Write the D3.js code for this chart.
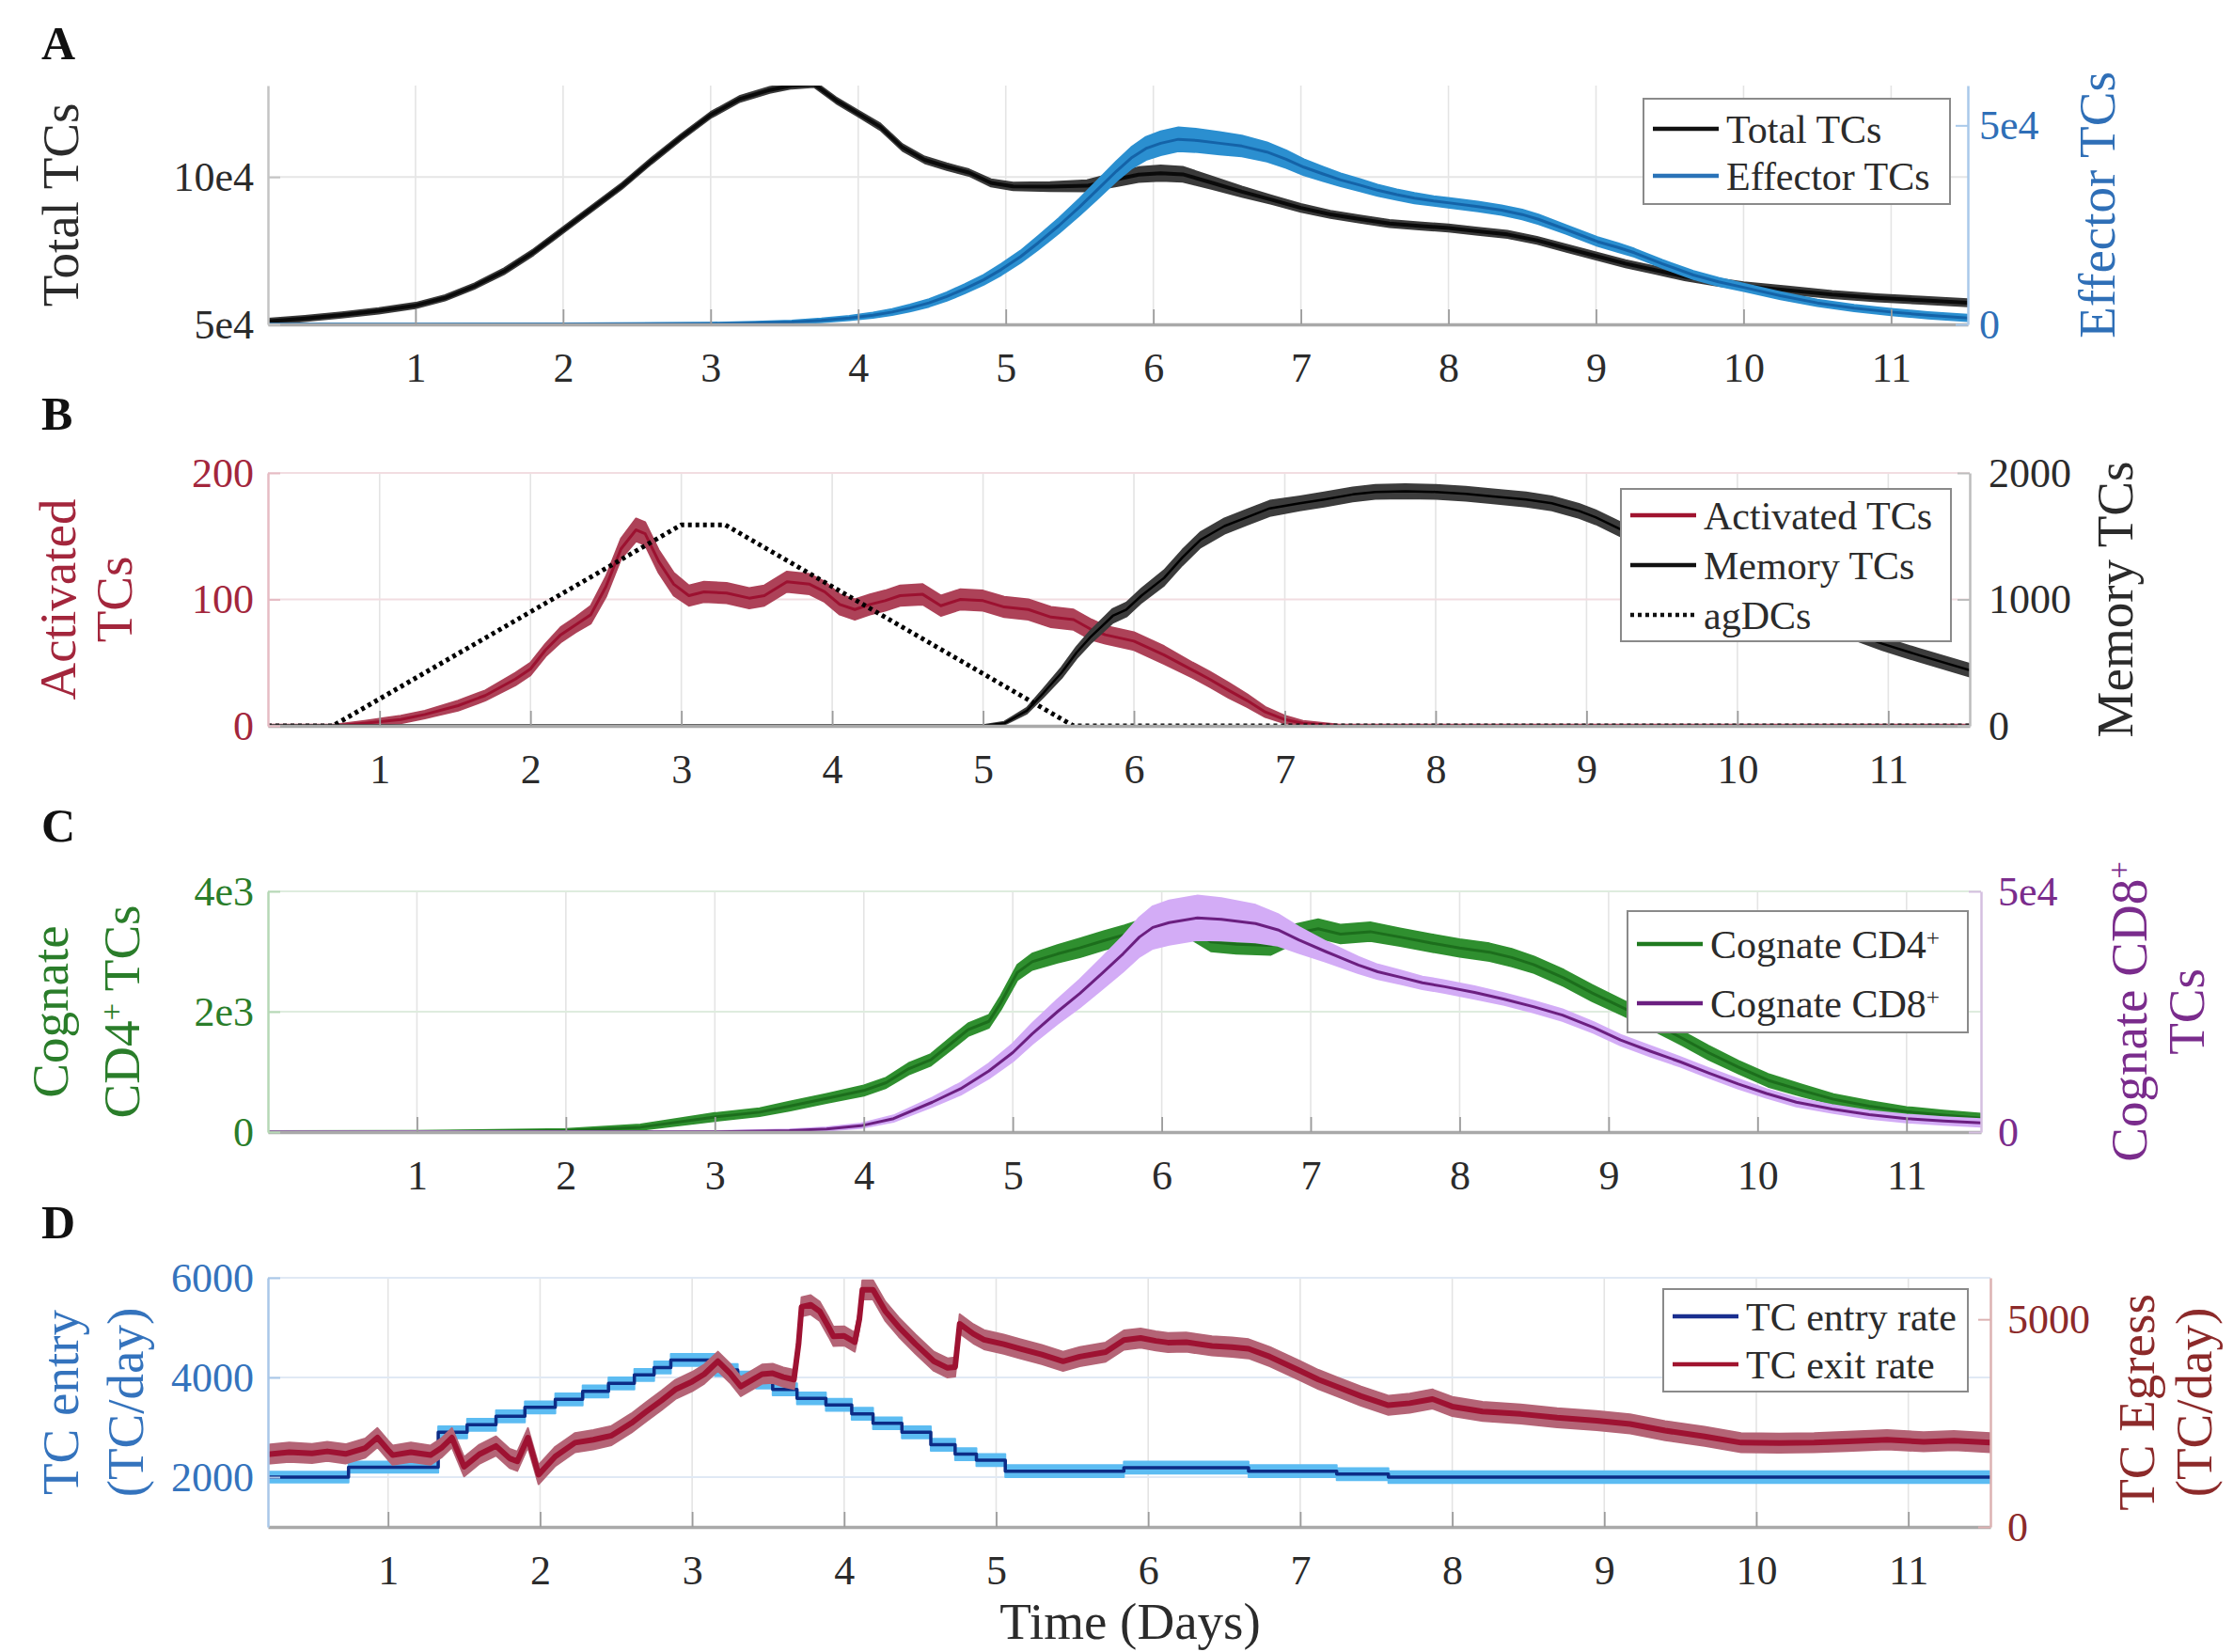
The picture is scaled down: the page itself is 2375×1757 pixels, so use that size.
<!DOCTYPE html>
<html><head><meta charset="utf-8">
<script src="https://cdn.jsdelivr.net/npm/d3@7/dist/d3.min.js"></script>
<style>
body{margin:0;background:#fff}
text{font-family:"Liberation Serif","Times New Roman",serif}
</style>
</head><body>
<svg id="chart" width="2375" height="1757"></svg>
<script>
// ---------- shared ----------
const dayTicks = [1,2,3,4,5,6,7,8,9,10,11];

// ---------- Panel A : [day, value, half-band] ----------
const aTotal = [[0,51000,900],[0.25,52000,900],[0.5,53200,900],[0.75,54600,900],[1.0,56400,900],[1.2,59000,900],[1.4,63000,900],[1.6,68000,1000],[1.8,74500,1000],[2.0,82000,1000],[2.2,89500,1000],[2.4,97000,1000],[2.6,105500,1000],[2.8,113500,1000],[3.0,121000,1000],[3.2,126500,1000],[3.4,129500,1000],[3.55,131000,1000],[3.7,131500,1000],[3.85,126000,1000],[4.0,121500,1000],[4.15,117000,1100],[4.3,110000,1100],[4.45,105800,1100],[4.6,103500,1100],[4.75,101500,1100],[4.9,98000,1200],[5.05,96800,1300],[5.3,96700,1500],[5.55,97000,1900],[5.75,99200,2300],[5.9,100800,2500],[6.05,101300,2600],[6.2,100900,2500],[6.4,98000,2100],[6.6,95000,1700],[6.8,92300,1400],[7.0,89500,1300],[7.2,87300,1200],[7.4,85700,1200],[7.6,84200,1200],[7.8,83400,1200],[8.0,82700,1200],[8.2,81600,1200],[8.4,80500,1200],[8.6,78500,1200],[8.8,75800,1200],[9.0,73200,1200],[9.2,70600,1200],[9.4,68400,1200],[9.6,66200,1200],[9.8,64500,1200],[10.0,63100,1200],[10.3,61600,1200],[10.6,60100,1200],[10.9,59000,1200],[11.2,58200,1200],[11.52,57300,1200]];
const aEffector = [[0,0,200],[1,0,200],[2,30,200],[3.0,150,250],[3.3,350,300],[3.55,600,350],[3.75,1000,450],[3.94,1600,550],[4.1,2300,650],[4.23,3100,750],[4.35,4100,850],[4.48,5400,950],[4.6,7000,1050],[4.72,8900,1150],[4.85,11200,1250],[4.97,13800,1400],[5.1,17000,1500],[5.22,20500,1700],[5.36,24800,1900],[5.5,29500,2100],[5.62,33800,2300],[5.75,38500,2500],[5.85,41800,2700],[5.95,44200,2900],[6.05,45500,3000],[6.17,46500,3000],[6.3,46200,2900],[6.45,45500,2800],[6.6,44800,2600],[6.77,43300,2400],[6.9,41500,2200],[7.02,39500,2000],[7.15,37800,1800],[7.27,36300,1600],[7.4,35000,1500],[7.52,33700,1400],[7.65,32600,1300],[7.77,31700,1300],[7.9,31000,1200],[8.01,30500,1200],[8.2,29600,1200],[8.36,28700,1200],[8.5,27600,1200],[8.61,26400,1200],[8.8,23800,1100],[9.01,20800,1100],[9.15,19300,1100],[9.26,18000,1000],[9.45,15200,1000],[9.66,12400,1000],[9.83,10700,1000],[10.0,9300,900],[10.25,7200,900],[10.5,5400,800],[10.75,4100,800],[11.0,3100,800],[11.25,2300,800],[11.52,1600,800]];
const aLeftTicks = [50000, 100000];
const aLeftLabels = ["5e4", "10e4"];
const aRightTicks = [0, 50000];
const aRightLabels = ["0", "5e4"];

// ---------- Panel B ----------
const bActivated = [[0.26,0,1],[0.7,0,1],[0.9,2,2],[1.14,5,3],[1.3,9,3],[1.52,16,4],[1.7,24,4],[1.9,37,5],[2.0,45,5],[2.1,60,5],[2.2,72,6],[2.3,80,6],[2.4,88,7],[2.5,110,8],[2.6,140,8],[2.7,155,9],[2.76,152,9],[2.85,130,9],[2.95,112,9],[3.05,103,8],[3.15,106,8],[3.3,105,8],[3.45,101,8],[3.55,103,8],[3.7,114,8],[3.85,112,8],[3.95,106,8],[4.05,96,8],[4.15,92,8],[4.25,96,8],[4.35,99,8],[4.45,103,8],[4.6,104,8],[4.72,95,8],[4.85,100,8],[5.0,99,8],[5.14,94,8],[5.3,92,8],[5.45,86,8],[5.6,84,8],[5.72,76,8],[5.81,72,7],[6.0,67,7],[6.2,56,7],[6.39,44,6],[6.5,37,6],[6.63,28,6],[6.75,20,5],[6.87,11,4],[7.0,5,3],[7.12,2,2],[7.36,0,1],[11.54,0,1]];
const bMemory = [[0.26,0,6],[5.0,0,6],[5.14,20,12],[5.29,120,22],[5.4,260,32],[5.52,420,42],[5.62,580,45],[5.71,700,50],[5.86,870,55],[5.95,920,55],[6.05,1030,55],[6.2,1170,60],[6.32,1330,60],[6.44,1470,60],[6.6,1580,60],[6.75,1650,60],[6.9,1720,60],[7.1,1760,55],[7.26,1790,55],[7.45,1830,55],[7.6,1850,55],[7.8,1855,55],[8.0,1850,55],[8.2,1835,55],[8.38,1815,55],[8.6,1790,55],[8.77,1760,55],[8.95,1700,55],[9.06,1650,55],[9.25,1540,55],[9.5,1390,55],[9.8,1200,55],[10.1,1020,55],[10.5,850,50],[10.96,650,50],[11.2,560,50],[11.54,440,50]];
const bAgDCs = [[0.26,0],[0.69,0],[3.0,159],[3.29,159],[5.6,0],[11.54,0]];
const bLeftTicks = [0, 100, 200];
const bLeftLabels = ["0", "100", "200"];
const bRightTicks = [0, 1000, 2000];
const bRightLabels = ["0", "1000", "2000"];

// ---------- Panel C ----------
const cCD4 = [[0,0,15],[1.0,5,15],[2.0,25,25],[2.5,80,45],[3.0,250,65],[3.3,330,65],[3.5,430,75],[3.75,560,75],[4.0,690,85],[4.15,820,85],[4.3,1050,95],[4.45,1200,95],[4.6,1500,105],[4.7,1700,105],[4.84,1840,105],[4.92,2150,115],[5.03,2650,125],[5.13,2830,135],[5.3,2960,145],[5.45,3060,155],[5.61,3180,155],[5.75,3280,155],[5.9,3400,155],[6.0,3460,155],[6.15,3430,155],[6.33,3160,155],[6.5,3120,155],[6.73,3100,155],[6.9,3300,155],[7.05,3380,155],[7.2,3290,155],[7.4,3330,155],[7.6,3240,145],[7.81,3140,145],[8.0,3060,145],[8.2,2990,145],[8.35,2900,145],[8.5,2780,135],[8.7,2560,135],[8.89,2310,135],[9.1,2060,125],[9.28,1840,125],[9.5,1550,115],[9.67,1320,115],[9.87,1080,105],[10.07,860,105],[10.3,690,95],[10.51,545,85],[10.75,430,85],[11.0,340,75],[11.25,280,75],[11.5,230,75]];
const cCD8 = [[0,0,150],[3.0,50,150],[3.5,300,250],[3.75,650,350],[3.98,1300,450],[4.2,2800,650],[4.46,6200,950],[4.65,9000,1250],[4.84,12700,1550],[5.0,16500,1850],[5.13,20400,2150],[5.3,25000,2550],[5.45,28800,2900],[5.6,33000,3300],[5.74,37000,3700],[5.85,40500,4100],[5.94,42500,4400],[6.05,43500,4600],[6.24,44500,4600],[6.4,44200,4400],[6.63,43300,3900],[6.78,42000,3300],[6.92,39900,2700],[7.1,37500,2100],[7.32,34700,1700],[7.45,33300,1500],[7.61,32100,1400],[7.75,31000,1300],[7.9,30200,1300],[8.1,29000,1300],[8.3,27600,1200],[8.5,26000,1200],[8.69,24300,1200],[8.9,21700,1100],[9.08,19100,1100],[9.28,16800,1100],[9.48,14600,1000],[9.67,12300,1000],[9.87,10000,1000],[10.06,8000,900],[10.26,6200,900],[10.5,4800,800],[10.75,3600,800],[11.0,2800,800],[11.25,2300,800],[11.5,1900,800]];
const cLeftTicks = [0, 2000, 4000];
const cLeftLabels = ["0", "2e3", "4e3"];
const cRightTicks = [0, 50000];
const cRightLabels = ["0", "5e4"];

// ---------- Panel D ----------
const dEntry = [[0.21,2000,110],[0.74,2200,110],[1.33,2900,120],[1.52,3050,120],[1.71,3220,120],[1.9,3400,120],[2.1,3560,120],[2.28,3720,120],[2.45,3880,120],[2.62,4050,120],[2.75,4200,120],[2.86,4350,120],[3.15,4150,120],[3.3,4000,120],[3.42,3900,120],[3.53,3760,120],[3.69,3580,120],[3.88,3450,120],[4.05,3270,120],[4.19,3080,120],[4.38,2900,120],[4.57,2650,120],[4.73,2460,120],[4.87,2340,120],[5.06,2120,120],[5.84,2190,120],[6.66,2120,120],[7.24,2060,120],[7.58,2000,120],[11.54,2000,120]];
const dExit = [[0.21,1750,230],[0.35,1800,230],[0.5,1770,230],[0.6,1820,230],[0.72,1760,230],[0.85,1900,230],[0.93,2150,230],[1.0,1850,230],[1.03,1730,230],[1.15,1800,230],[1.28,1730,230],[1.35,1900,230],[1.42,2150,230],[1.5,1450,230],[1.6,1750,230],[1.71,1950,230],[1.8,1650,230],[1.85,1580,230],[1.92,2150,230],[1.99,1260,230],[2.1,1700,230],[2.23,2030,230],[2.35,2100,230],[2.47,2200,230],[2.6,2500,230],[2.7,2780,230],[2.8,3050,230],[2.89,3310,230],[3.0,3500,230],[3.08,3680,230],[3.17,3990,230],[3.25,3700,230],[3.32,3380,230],[3.4,3550,230],[3.46,3680,230],[3.53,3700,230],[3.6,3610,230],[3.67,3550,230],[3.7,4400,230],[3.72,5300,230],[3.78,5350,230],[3.84,5190,230],[3.9,4800,230],[3.93,4590,230],[4.0,4600,230],[4.07,4450,230],[4.1,5000,230],[4.12,5710,230],[4.19,5710,230],[4.27,5200,230],[4.36,4810,230],[4.47,4400,230],[4.59,3990,230],[4.68,3830,230],[4.73,3850,230],[4.76,4890,230],[4.85,4650,230],[4.92,4510,230],[5.05,4400,230],[5.16,4290,230],[5.3,4150,230],[5.44,3990,230],[5.55,4100,230],[5.72,4210,230],[5.84,4500,230],[5.95,4550,230],[6.05,4480,230],[6.13,4440,230],[6.25,4450,230],[6.42,4360,230],[6.55,4330,230],[6.66,4290,230],[6.8,4100,230],[7.0,3760,230],[7.12,3550,230],[7.24,3380,230],[7.4,3150,230],[7.58,2930,230],[7.72,2980,230],[7.87,3080,230],[8.0,2900,230],[8.2,2780,230],[8.45,2720,230],[8.69,2630,230],[8.95,2560,230],[9.17,2480,230],[9.4,2320,230],[9.66,2180,230],[9.9,2030,230],[10.15,2020,230],[10.38,2030,230],[10.6,2060,230],[10.86,2100,230],[11.1,2050,230],[11.3,2080,230],[11.54,2030,230]];
const dLeftTicks = [2000, 4000, 6000];
const dLeftLabels = ["2000", "4000", "6000"];
const dRightTicks = [0, 5000];
const dRightLabels = ["0", "5000"];

// ---------- drawing ----------
const svg = d3.select("#chart");
svg.append("rect").attr("width", 2375).attr("height", 1757).attr("fill", "#fff");
const defs = svg.append("defs");
const TICK_FS = 44, LAB_FS = 55, LEG_FS = 42;
const INK = "#2b2b2b";

function addSegs(textSel, segs, size) {
  segs.forEach(s => {
    const ts = textSel.append("tspan").text(s.t);
    if (s.sup) ts.attr("baseline-shift", "super").attr("font-size", size * 0.6);
  });
}

function drawPanel(p) {
  const g = svg.append("g");
  const x = d3.scaleLinear().domain(p.xDomain).range([p.L, p.R]);
  const yl = d3.scaleLinear().domain(p.yLDomain).range([p.B, p.T]);
  const yr = d3.scaleLinear().domain(p.yRDomain).range([p.B, p.T]);
  const clipId = "clip" + p.id;
  defs.append("clipPath").attr("id", clipId).append("rect")
    .attr("x", p.L).attr("y", p.T).attr("width", p.R - p.L).attr("height", p.B - p.T);

  // grid
  g.append("g").selectAll("line").data(dayTicks).join("line")
    .attr("x1", d => x(d)).attr("x2", d => x(d)).attr("y1", p.T).attr("y2", p.B)
    .attr("stroke", "#e4e4e4").attr("stroke-width", 1.6);
  g.append("g").selectAll("line").data(p.yLTicks).join("line")
    .attr("x1", p.L).attr("x2", p.R).attr("y1", d => yl(d)).attr("y2", d => yl(d))
    .attr("stroke", p.gridColor).attr("stroke-width", 2);

  // series
  const plot = g.append("g").attr("clip-path", `url(#${clipId})`);
  p.series.forEach(s => {
    const y = s.axis === "L" ? yl : yr;
    const curve = s.step ? d3.curveStepAfter : d3.curveLinear;
    if (s.band) {
      plot.append("path").datum(s.data)
        .attr("d", d3.area().x(d => x(d[0])).y0(d => y(d[1] - d[2])).y1(d => y(d[1] + d[2])).curve(curve))
        .attr("fill", s.band).attr("stroke", s.band).attr("stroke-width", s.bandEdge || 2)
        .attr("stroke-linejoin", "round");
    }
    plot.append("path").datum(s.data)
      .attr("d", d3.line().x(d => x(d[0])).y(d => y(d[1])).curve(curve))
      .attr("fill", "none").attr("stroke", s.color).attr("stroke-width", s.width)
      .attr("stroke-dasharray", s.dash || null).attr("stroke-linejoin", "round");
  });

  // axes
  const xAxis = g.append("g").attr("transform", `translate(0,${p.B})`)
    .call(d3.axisBottom(x).tickValues(dayTicks).tickFormat(d3.format("d"))
      .tickSizeInner(-16).tickSizeOuter(0).tickPadding(30));
  xAxis.select(".domain").attr("stroke", "#a9a9a9").attr("stroke-width", 3.5);
  xAxis.selectAll(".tick line").attr("stroke", "#9c9c9c").attr("stroke-width", 1.8);
  xAxis.selectAll("text").attr("font-size", TICK_FS).attr("fill", INK)
    .attr("font-family", "Liberation Serif");

  const lAxis = g.append("g").attr("transform", `translate(${p.L},0)`)
    .call(d3.axisLeft(yl).tickValues(p.yLTicks).tickFormat((d, i) => p.yLLabels[i])
      .tickSizeInner(-13).tickSizeOuter(0).tickPadding(15));
  lAxis.select(".domain").attr("stroke", p.lAxisColor).attr("stroke-width", 2.5);
  lAxis.selectAll(".tick line").attr("stroke", p.lAxisColor).attr("stroke-width", 2);
  lAxis.selectAll("text").attr("font-size", TICK_FS).attr("fill", p.lColor)
    .attr("font-family", "Liberation Serif");

  const rAxis = g.append("g").attr("transform", `translate(${p.R},0)`)
    .call(d3.axisRight(yr).tickValues(p.yRTicks).tickFormat((d, i) => p.yRLabels[i])
      .tickSizeInner(-13).tickSizeOuter(0).tickPadding(p.rPad || 15));
  rAxis.select(".domain").attr("stroke", p.rAxisColor).attr("stroke-width", 2.5);
  rAxis.selectAll(".tick line").attr("stroke", p.rAxisColor).attr("stroke-width", 2);
  rAxis.selectAll("text").attr("font-size", TICK_FS).attr("fill", p.rColor)
    .attr("font-family", "Liberation Serif");

  // axis labels (rotated)
  const yc = (p.T + p.B) / 2;
  p.lLabel.forEach(line => {
    const t = g.append("text").attr("transform", `translate(${line.x},${yc}) rotate(-90)`)
      .attr("text-anchor", "middle").attr("dy", "0.35em")
      .attr("font-size", LAB_FS).attr("fill", p.lColor);
    addSegs(t, line.segs, LAB_FS);
  });
  p.rLabel.forEach(line => {
    const t = g.append("text").attr("transform", `translate(${line.x},${yc}) rotate(-90)`)
      .attr("text-anchor", "middle").attr("dy", "0.35em")
      .attr("font-size", LAB_FS).attr("fill", p.rColor);
    addSegs(t, line.segs, LAB_FS);
  });

  // panel letter
  g.append("text").attr("x", 44).attr("y", p.letterY).text(p.id)
    .attr("font-size", 50).attr("font-weight", "bold").attr("fill", "#111");

  // legend
  const lg = p.legend;
  const leg = g.append("g").attr("transform", `translate(${lg.x},${lg.y})`);
  leg.append("rect").attr("width", lg.w).attr("height", lg.h)
    .attr("fill", "#fff").attr("stroke", "#8a8a8a").attr("stroke-width", 2);
  lg.rows.forEach((r, i) => {
    const ry = lg.rowY[i];
    leg.append("line").attr("x1", 10).attr("x2", 80).attr("y1", ry).attr("y2", ry)
      .attr("stroke", r.color).attr("stroke-width", 4.5).attr("stroke-dasharray", r.dash || null);
    const t = leg.append("text").attr("x", 88).attr("y", ry).attr("dy", "0.35em")
      .attr("font-size", LEG_FS).attr("fill", INK);
    addSegs(t, r.segs, LEG_FS);
  });
}

// ---------- panel configs ----------
drawPanel({
  id: "A", letterY: 63, L: 285, R: 2093, T: 91, B: 345,
  xDomain: [0, 11.52], yLDomain: [50000, 131000], yRDomain: [0, 60000],
  yLTicks: aLeftTicks, yLLabels: aLeftLabels, yRTicks: aRightTicks, yRLabels: aRightLabels,
  gridColor: "#e6e6e6", lAxisColor: "#c4c4c4", rAxisColor: "#a9c9ea",
  lColor: INK, rColor: "#2f6fb7", rPad: 12,
  series: [
    {data: aTotal, axis: "L", band: "#3a3a3a", color: "#0a0a0a", width: 4},
    {data: aEffector, axis: "R", band: "#2b8fd0", color: "#1463a8", width: 3}
  ],
  lLabel: [{x: 64, segs: [{t: "Total TCs"}]}],
  rLabel: [{x: 2230, segs: [{t: "Effector TCs"}]}],
  legend: {x: 1748, y: 105, w: 326, h: 112, rowY: [32, 82],
    rows: [{color: "#111", segs: [{t: "Total TCs"}]}, {color: "#2a73b8", segs: [{t: "Effector TCs"}]}]}
});

drawPanel({
  id: "B", letterY: 457, L: 285, R: 2095, T: 503, B: 772,
  xDomain: [0.26, 11.54], yLDomain: [0, 200], yRDomain: [0, 2000],
  yLTicks: bLeftTicks, yLLabels: bLeftLabels, yRTicks: bRightTicks, yRLabels: bRightLabels,
  gridColor: "#f2dde1", lAxisColor: "#e6bcc4", rAxisColor: "#bdbdbd",
  lColor: "#a3263c", rColor: INK, rPad: 20,
  series: [
    {data: bActivated, axis: "L", band: "#ad4258", color: "#9c1130", width: 3},
    {data: bMemory, axis: "R", band: "#3c3c3c", color: "#000", width: 2.5},
    {data: bAgDCs, axis: "L", color: "#000", width: 5, dash: "4,4"}
  ],
  lLabel: [{x: 61, segs: [{t: "Activated"}]}, {x: 121, segs: [{t: "TCs"}]}],
  rLabel: [{x: 2249, segs: [{t: "Memory TCs"}]}],
  legend: {x: 1724, y: 520, w: 351, h: 162, rowY: [28, 81, 134],
    rows: [{color: "#a0142f", segs: [{t: "Activated TCs"}]}, {color: "#111", segs: [{t: "Memory TCs"}]},
           {color: "#111", dash: "4,4", segs: [{t: "agDCs"}]}]}
});

drawPanel({
  id: "C", letterY: 895, L: 285, R: 2107, T: 948, B: 1204,
  xDomain: [0, 11.5], yLDomain: [0, 4000], yRDomain: [0, 50000],
  yLTicks: cLeftTicks, yLLabels: cLeftLabels, yRTicks: cRightTicks, yRLabels: cRightLabels,
  gridColor: "#deecde", lAxisColor: "#b6d8b6", rAxisColor: "#d5bfe0",
  lColor: "#2a7d2a", rColor: "#7a2c8c", rPad: 18,
  series: [
    {data: cCD4, axis: "L", band: "#2f8f2f", color: "#1c6e1c", width: 3},
    {data: cCD8, axis: "R", band: "#d3acf6", color: "#6b1f80", width: 3}
  ],
  lLabel: [{x: 53, segs: [{t: "Cognate"}]}, {x: 129, segs: [{t: "CD4"}, {t: "+", sup: true}, {t: " TCs"}]}],
  rLabel: [{x: 2264, segs: [{t: "Cognate CD8"}, {t: "+", sup: true}]}, {x: 2325, segs: [{t: "TCs"}]}],
  legend: {x: 1731, y: 969, w: 362, h: 129, rowY: [35, 98],
    rows: [{color: "#1f7a1f", segs: [{t: "Cognate CD4"}, {t: "+", sup: true}]},
           {color: "#6b1f80", segs: [{t: "Cognate CD8"}, {t: "+", sup: true}]}]}
});

drawPanel({
  id: "D", letterY: 1317, L: 285, R: 2117, T: 1359, B: 1624,
  xDomain: [0.21, 11.54], yLDomain: [1000, 6000], yRDomain: [0, 6000],
  yLTicks: dLeftTicks, yLLabels: dLeftLabels, yRTicks: dRightTicks, yRLabels: dRightLabels,
  gridColor: "#e0e9f4", lAxisColor: "#a9c7e8", rAxisColor: "#dcb2b2",
  lColor: "#3473bd", rColor: "#8c2a2a", rPad: 18,
  series: [
    {data: dEntry, axis: "L", band: "#5cbcf2", color: "#0c2c86", width: 3.5, step: true},
    {data: dExit, axis: "R", band: "#b46476", color: "#9e1232", width: 6}
  ],
  lLabel: [{x: 64, segs: [{t: "TC entry"}]}, {x: 133, segs: [{t: "(TC/day)"}]}],
  rLabel: [{x: 2272, segs: [{t: "TC Egress"}]}, {x: 2333, segs: [{t: "(TC/day)"}]}],
  legend: {x: 1769, y: 1371, w: 324, h: 109, rowY: [29, 80],
    rows: [{color: "#1a2f8f", segs: [{t: "TC entry rate"}]}, {color: "#a0142f", segs: [{t: "TC exit rate"}]}]}
});

// x-axis title
svg.append("text").attr("x", 1202).attr("y", 1743).attr("text-anchor", "middle")
  .attr("font-size", LAB_FS).attr("fill", INK).text("Time (Days)");
</script>
</body></html>
